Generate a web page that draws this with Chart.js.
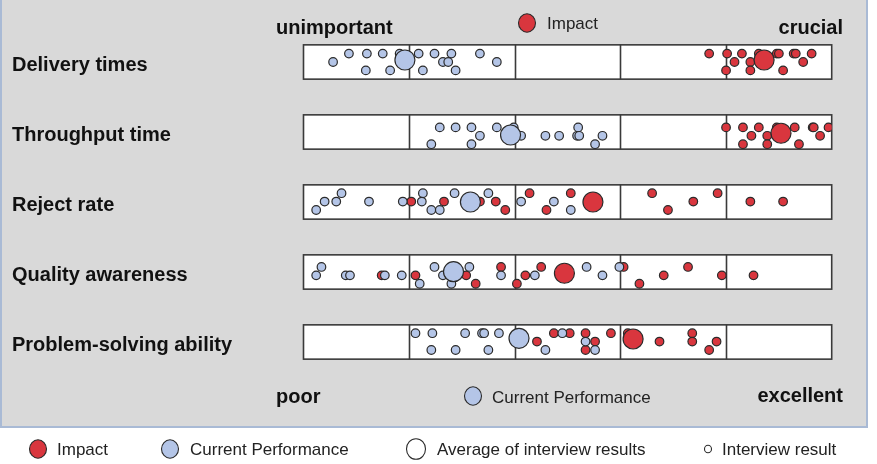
<!DOCTYPE html>
<html>
<head>
<meta charset="utf-8">
<script src="https://cdn.jsdelivr.net/npm/chart.js@4/dist/chart.umd.min.js"></script>
<style>
  html, body { margin: 0; padding: 0; background: #fff; }
  #wrap { width: 877px; height: 464px; }
</style>
</head>
<body>
<div id="wrap"><canvas id="chart" width="877" height="464"></canvas></div>
<script>
// ==========================================
// A. DATA
// ==========================================
const rows = ['Delivery times', 'Throughput time', 'Reject rate', 'Quality awareness', 'Problem-solving ability'];

// interview results per row: [score 0..5, lane -1 top / 0 middle / 1 bottom]
const impactResults = [
    [[3.84,-1],[4.01,-1],[4.00,1],[4.08,0],[4.15,-1],[4.23,0],[4.23,1],[4.31,-1],[4.48,-1],[4.50,-1],[4.54,1],[4.64,-1],[4.66,-1],[4.73,0],[4.81,-1]],
    [[4.00,-1],[4.16,-1],[4.31,-1],[4.24,0],[4.16,1],[4.39,0],[4.39,1],[4.48,-1],[4.65,-1],[4.69,1],[4.82,-1],[4.83,-1],[4.89,0],[4.97,-1]],
    [[1.02,0],[1.33,0],[1.67,0],[1.82,0],[1.91,1],[2.14,-1],[2.30,1],[2.53,-1],[3.30,-1],[3.45,1],[3.69,0],[3.92,-1],[4.23,0],[4.54,0]],
    [[0.74,0],[1.06,0],[1.54,0],[1.63,1],[1.87,-1],[2.02,1],[2.10,0],[2.25,-1],[3.03,-1],[3.18,1],[3.41,0],[3.64,-1],[3.96,0],[4.26,0]],
    [[2.21,0],[2.37,-1],[2.52,-1],[2.67,-1],[2.67,1],[2.76,0],[2.91,-1],[3.07,-1],[3.37,0],[3.68,-1],[3.68,0],[3.91,0],[3.84,1]]
];
const currentResults = [
    [[0.28,0],[0.43,-1],[0.60,-1],[0.75,-1],[0.59,1],[0.82,1],[0.91,-1],[1.09,-1],[1.24,-1],[1.40,-1],[1.32,0],[1.37,0],[1.13,1],[1.44,1],[1.67,-1],[1.83,0]],
    [[1.29,-1],[1.44,-1],[1.59,-1],[1.21,1],[1.59,1],[1.67,0],[1.83,-1],[1.99,-1],[2.06,0],[2.29,0],[2.42,0],[2.60,-1],[2.59,0],[2.61,0],[2.83,0],[2.76,1]],
    [[0.12,1],[0.20,0],[0.31,0],[0.36,-1],[0.62,0],[0.94,0],[1.13,-1],[1.12,0],[1.21,1],[1.29,1],[1.43,-1],[1.75,-1],[2.06,0],[2.37,0],[2.53,1]],
    [[0.12,0],[0.17,-1],[0.40,0],[0.44,0],[0.77,0],[0.93,0],[1.24,-1],[1.32,0],[1.10,1],[1.40,1],[1.57,-1],[1.87,0],[2.19,0],[2.68,-1],[2.83,0],[2.99,-1]],
    [[1.06,-1],[1.22,-1],[1.21,1],[1.44,1],[1.53,-1],[1.69,-1],[1.71,-1],[1.75,1],[1.85,-1],[2.29,1],[2.45,-1],[2.67,0],[2.76,1]]
];
const laneShift = [0, 0.45, -0.05, 0.4, -0.05];

// averages
const impactAvg = [4.36, 4.52, 2.74, 2.47, 3.12];
const impactAvgLane = [-0.24, 0.15, 0, 0.15, -0.36];
const currentAvg = [0.96, 1.96, 1.58, 1.42, 2.04];
const currentAvgLane = [-0.24, 0.36, 0, -0.04, -0.44];

const scaleLabels = { top: ['unimportant', 'crucial'], bottom: ['poor', 'excellent'] };
const legendLabels = ['Impact', 'Current Performance', 'Average of interview results', 'Interview result'];

// ==========================================
// B. STYLE
// ==========================================
const RED = '#d9363e';
const BLUE = '#b4c5e7';
const EDGE = '#2b2b2b';
const LANE = 0.12;      // one lane in row units
const BOX_HALF = 0.245; // half height of row box in row units
const FONT = "'Liberation Sans', Arial, sans-serif";

function toPoints(list) {
    const pts = [];
    list.forEach((row, r) => row.forEach(p => pts.push({ x: p[0], y: r + (p[1] + laneShift[r]) * LANE })));
    return pts;
}
function avgPoints(xs, lanes) {
    return xs.map((v, r) => ({ x: v, y: r + lanes[r] * LANE }));
}

// ==========================================
// C. PLUGINS
// ==========================================
const panelPlugin = {
    id: 'panel',
    beforeDraw(chart) {
        const ctx = chart.ctx;
        ctx.save();
        ctx.fillStyle = '#fff';
        ctx.fillRect(0, 0, chart.width, chart.height);
        ctx.fillStyle = '#d9d9d9';
        ctx.fillRect(0, -2, 868, 429);
        ctx.strokeStyle = '#a9bad5';
        ctx.lineWidth = 2;
        ctx.strokeRect(1, -2, 866, 429);
        ctx.restore();
    },
    beforeDatasetsDraw(chart) {
        const { ctx, scales: { x, y } } = chart;
        ctx.save();
        ctx.strokeStyle = '#3a3a3a';
        ctx.lineWidth = 1.6;
        rows.forEach((_, r) => {
            const top = y.getPixelForValue(r - BOX_HALF);
            const bot = y.getPixelForValue(r + BOX_HALF);
            const x0 = x.getPixelForValue(0), x5 = x.getPixelForValue(5);
            ctx.fillStyle = '#fff';
            ctx.fillRect(x0, top, x5 - x0, bot - top);
            ctx.strokeRect(x0, top, x5 - x0, bot - top);
            ctx.beginPath();
            for (let k = 1; k < 5; k++) {
                const px = Math.round(x.getPixelForValue(k)) + 0.5;
                ctx.moveTo(px, top);
                ctx.lineTo(px, bot);
            }
            ctx.stroke();
        });
        ctx.restore();
    },
    afterDraw(chart) {
        const ctx = chart.ctx;
        const dot = (cx, cy, r, fill) => {
            ctx.beginPath();
            ctx.ellipse(cx, cy, r, r * 1.08, 0, 0, Math.PI * 2);
            ctx.fillStyle = fill;
            ctx.fill();
            ctx.lineWidth = 1.1;
            ctx.strokeStyle = EDGE;
            ctx.stroke();
        };
        ctx.save();
        ctx.textBaseline = 'middle';
        ctx.fillStyle = '#111';
        ctx.font = 'bold 20px ' + FONT;
        ctx.textAlign = 'left';
        ctx.fillText(scaleLabels.top[0], 276, 28);
        ctx.fillText(scaleLabels.bottom[0], 276, 397);
        ctx.textAlign = 'right';
        ctx.fillText(scaleLabels.top[1], 843, 28);
        ctx.fillText(scaleLabels.bottom[1], 843, 396);

        ctx.font = '17px ' + FONT;
        ctx.textAlign = 'left';
        // in-panel legends
        dot(527, 23, 8.5, RED);
        ctx.fillStyle = '#222';
        ctx.fillText(legendLabels[0], 547, 24);
        dot(473, 396, 8.5, BLUE);
        ctx.fillStyle = '#222';
        ctx.fillText(legendLabels[1], 492, 398);

        // bottom legend
        dot(38, 449, 8.5, RED);
        dot(170, 449, 8.5, BLUE);
        dot(416, 449, 9.5, '#fff');
        dot(708, 449, 3.5, '#fff');
        ctx.fillStyle = '#222';
        ctx.fillText(legendLabels[0], 57, 450);
        ctx.fillText(legendLabels[1], 190, 450);
        ctx.fillText(legendLabels[2], 437, 450);
        ctx.fillText(legendLabels[3], 722, 450);
        ctx.restore();
    }
};

// ==========================================
// D. CHART
// ==========================================
const small = { pointRadius: 4.3, borderWidth: 1.2, borderColor: EDGE, pointHoverRadius: 4.3 };
const big = { pointRadius: 10, borderWidth: 1.2, borderColor: EDGE, pointHoverRadius: 10 };

new Chart(document.getElementById('chart').getContext('2d'), {
    type: 'scatter',
    data: {
        datasets: [
            Object.assign({ label: 'Current Performance average', data: avgPoints(currentAvg, currentAvgLane), backgroundColor: BLUE, order: 1 }, big),
            Object.assign({ label: 'Impact average', data: avgPoints(impactAvg, impactAvgLane), backgroundColor: RED, order: 2 }, big),
            Object.assign({ label: 'Current Performance', data: toPoints(currentResults), backgroundColor: BLUE, order: 3 }, small),
            Object.assign({ label: 'Impact', data: toPoints(impactResults), backgroundColor: RED, order: 4 }, small)
        ]
    },
    options: {
        responsive: false,
        animation: false,
        layout: { padding: { left: 12, right: 45.3, top: 27, bottom: 87 } },
        plugins: { legend: { display: false }, tooltip: { enabled: false } },
        scales: {
            x: { type: 'linear', min: 0, max: 5, display: false },
            y: {
                type: 'linear', min: -0.5, max: 4.5, reverse: true,
                grid: { display: false }, border: { display: false },
                afterBuildTicks: s => { s.ticks = rows.map((_, i) => ({ value: i })); },
                afterFit: s => { s.width = 303.5 - 12; },
                ticks: {
                    autoSkip: false, crossAlign: 'far', labelOffset: 3, padding: 0,
                    color: '#111', font: { family: FONT, size: 20, weight: 'bold' },
                    callback: v => rows[v]
                }
            }
        }
    },
    plugins: [panelPlugin]
});
</script>
</body>
</html>
